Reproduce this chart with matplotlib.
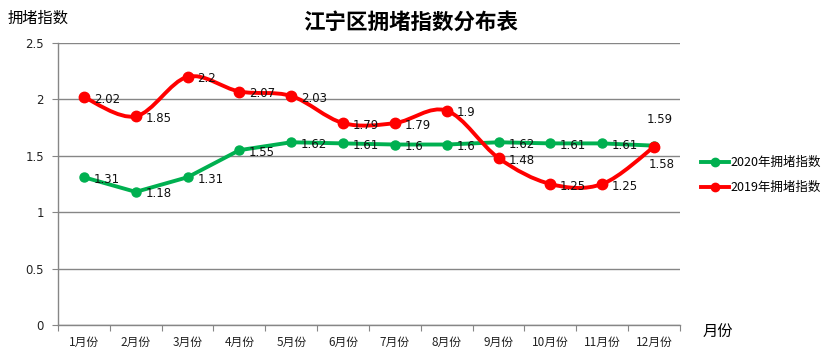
import matplotlib
matplotlib.use("Agg")
import matplotlib.pyplot as plt
from matplotlib.path import Path
from matplotlib.patches import PathPatch
from matplotlib.lines import Line2D
import numpy as np

plt.rcParams['font.family'] = ['DejaVu Sans', 'Noto Sans CJK SC']

months = ["1月份", "2月份", "3月份", "4月份", "5月份", "6月份",
          "7月份", "8月份", "9月份", "10月份", "11月份", "12月份"]
vals_2020 = [1.31, 1.18, 1.31, 1.55, 1.62, 1.61, 1.6, 1.6, 1.62, 1.61, 1.61, 1.59]
vals_2019 = [2.02, 1.85, 2.2, 2.07, 2.03, 1.79, 1.79, 1.9, 1.48, 1.25, 1.25, 1.58]
label_2020 = "2020年拥堵指数"
label_2019 = "2019年拥堵指数"
title = "江宁区拥堵指数分布表"
ylabel = "拥堵指数"
xlabel = "月份"
yticks = [0, 0.5, 1, 1.5, 2, 2.5]
ytick_labels = ["0", "0.5", "1", "1.5", "2", "2.5"]

GREEN = "#00B050"
RED = "#FF0000"
GRID = "#868686"
CJK = ['Noto Sans CJK SC', 'DejaVu Sans']

fig = plt.figure(figsize=(8.29, 3.53), dpi=100)
ax = fig.add_axes([58/829, 1-325/353, (680-58)/829, (325-43)/353])

x = np.arange(len(months))
ax.set_xlim(-0.5, len(months) - 0.5)
ax.set_ylim(0, 2.5)

# grid
ax.set_yticks(yticks)
ax.set_yticklabels(ytick_labels, fontsize=8.5, color="#222222")
ax.yaxis.grid(True, color=GRID, linewidth=1)
ax.set_axisbelow(True)
for s in ["top", "right"]:
    ax.spines[s].set_visible(False)
for s in ["left", "bottom"]:
    ax.spines[s].set_color(GRID)
    ax.spines[s].set_linewidth(1)
ax.tick_params(axis="y", length=4, color=GRID, pad=6)

# x ticks at category boundaries, labels at centers
ax.set_xticks(np.arange(-0.5, len(months)), minor=False)
ax.set_xticklabels([""] * (len(months) + 1))
ax.tick_params(axis="x", length=4, color=GRID)
ax.set_xticks(x, minor=True)
ax.set_xticklabels(months, minor=True, fontsize=8.5, family=CJK, color="#222222")
ax.tick_params(axis="x", which="minor", length=0, pad=8)

# green straight line
ax.plot(x, vals_2020, color=GREEN, linewidth=2.8, marker="o", markersize=6.5,
        zorder=3, solid_capstyle="round")

# red smoothed line (Excel-style cubic Bezier)
pts = np.column_stack([x, vals_2019]).astype(float)
verts = [tuple(pts[0])]
codes = [Path.MOVETO]
n = len(pts)
for i in range(n - 1):
    p0 = pts[i - 1] if i > 0 else pts[i]
    p1 = pts[i]
    p2 = pts[i + 1]
    p3 = pts[i + 2] if i + 2 < n else pts[i + 1]
    c1 = p1 + (p2 - p0) / 6.0
    c2 = p2 - (p3 - p1) / 6.0
    verts += [tuple(c1), tuple(c2), tuple(p2)]
    codes += [Path.CURVE4] * 3
patch = PathPatch(Path(verts, codes), facecolor="none", edgecolor=RED,
                  linewidth=2.8, zorder=4, capstyle="round")
ax.add_patch(patch)
ax.plot(x, vals_2019, linestyle="none", color=RED, marker="o", markersize=7.5, zorder=5)

# data labels
FS = 8.5
for i, v in enumerate(vals_2020):
    if i == len(vals_2020) - 1:
        ax.annotate(f"{v:g}", (x[i], v), xytext=(-5, 14), textcoords="offset points",
                    fontsize=FS, ha="left", va="bottom", color="#111111", zorder=6)
    else:
        ax.annotate(f"{v:g}", (x[i], v), xytext=(7, -1.5), textcoords="offset points",
                    fontsize=FS, ha="left", va="center", color="#111111", zorder=6)
for i, v in enumerate(vals_2019):
    if i == len(vals_2019) - 1:
        ax.annotate(f"{v:g}", (x[i], v), xytext=(-4, -8), textcoords="offset points",
                    fontsize=FS, ha="left", va="top", color="#111111", zorder=6)
    else:
        ax.annotate(f"{v:g}", (x[i], v), xytext=(7, -1.5), textcoords="offset points",
                    fontsize=FS, ha="left", va="center", color="#111111", zorder=6)

# titles and axis labels
fig.text(411/829, 1-22/353, title, ha="center", va="center", fontsize=15.5,
         fontweight="bold", family=CJK, color="#000000")
fig.text(8/829, 1-18/353, ylabel, ha="left", va="center", fontsize=11,
         family=CJK, color="#000000")
fig.text(703/829, 1-332/353, xlabel, ha="left", va="center", fontsize=11,
         family=CJK, color="#000000")

# legend
handles = [Line2D([0], [0], color=GREEN, linewidth=2.8, marker="o", markersize=6),
           Line2D([0], [0], color=RED, linewidth=2.8, marker="o", markersize=6)]
leg = fig.legend(handles, [label_2020, label_2019], loc="center left",
                 bbox_to_anchor=(695/829, 1-175/353), frameon=False,
                 prop={"family": CJK, "size": 9}, handlelength=2.2,
                 handletextpad=0.1, labelspacing=0.95, borderpad=0)

fig.savefig("out.png", dpi=100)
